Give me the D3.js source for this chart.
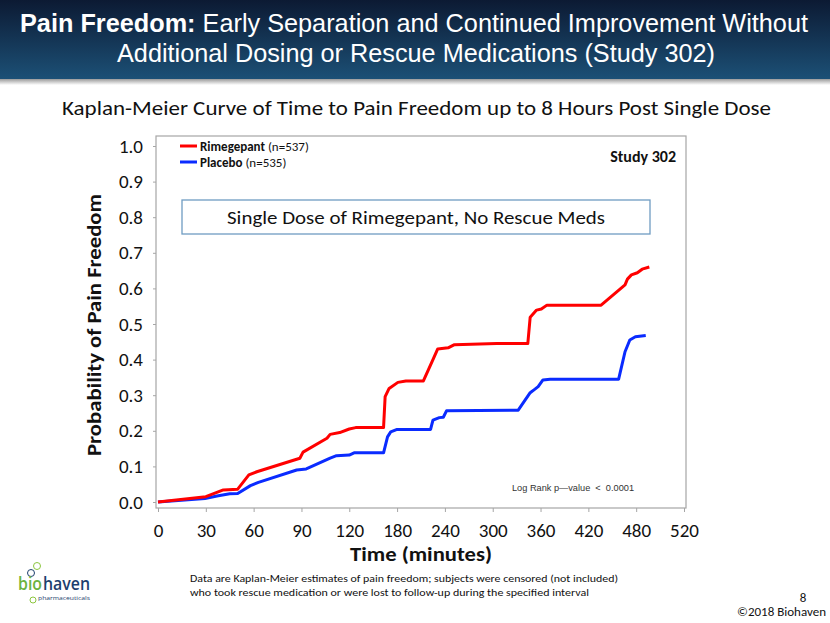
<!DOCTYPE html>
<html><head><meta charset="utf-8">
<script src="https://cdn.jsdelivr.net/npm/d3@7/dist/d3.min.js"></script>
<style>body{margin:0;background:#fff;} svg{display:block;}</style>
</head><body>
<svg id="c" width="830" height="623"></svg>
<script>
// ---- data ----
const xTicks = [0, 30, 60, 90, 120, 180, 240, 300, 360, 420, 480, 520];
const yTicks = [0, 0.1, 0.2, 0.3, 0.4, 0.5, 0.6, 0.7, 0.8, 0.9, 1.0];
const rimeTime = [0, 30, 41, 50, 57, 62, 89, 91, 106, 108, 114, 120, 128, 163, 165, 170, 181, 191, 213, 225, 231, 244, 252, 305, 344, 347, 355, 361, 368, 436, 466, 469, 474, 481, 485, 491];
const rimeProb = [0, 0.015, 0.034, 0.036, 0.076, 0.085, 0.123, 0.14, 0.179, 0.19, 0.195, 0.205, 0.209, 0.209, 0.296, 0.319, 0.336, 0.34, 0.34, 0.40, 0.43, 0.433, 0.442, 0.445, 0.445, 0.519, 0.539, 0.542, 0.553, 0.553, 0.61, 0.626, 0.638, 0.644, 0.654, 0.66];
const placTime = [0, 29.5, 37, 45, 50, 58, 63, 87, 93, 108, 112, 120, 126, 163, 168, 172, 180, 222, 225, 233, 238, 242, 332, 347, 353, 357, 363, 372, 458, 466, 472, 479, 488];
const placProb = [0, 0.010, 0.017, 0.023, 0.024, 0.046, 0.055, 0.09, 0.093, 0.123, 0.13, 0.132, 0.138, 0.138, 0.183, 0.197, 0.204, 0.204, 0.23, 0.237, 0.238, 0.256, 0.258, 0.307, 0.317, 0.324, 0.343, 0.345, 0.345, 0.422, 0.455, 0.464, 0.468];
const seriesNames = ["Rimegepant", "Placebo"];
const seriesN = ["(n=537)", "(n=535)"];
const seriesColors = ["#ff0000", "#0a2bff"];

const svg = d3.select("#c");
const defs = svg.append("defs");
const grad = defs.append("linearGradient").attr("id","hdr").attr("x1",0).attr("y1",0).attr("x2",0).attr("y2",1);
grad.append("stop").attr("offset","0%").attr("stop-color","#0c1a33");
grad.append("stop").attr("offset","100%").attr("stop-color","#1c5076");
const sh = defs.append("linearGradient").attr("id","shd").attr("x1",0).attr("y1",0).attr("x2",0).attr("y2",1);
sh.append("stop").attr("offset","0%").attr("stop-color","#8a8a8a");
sh.append("stop").attr("offset","100%").attr("stop-color","#ffffff");

// header
svg.append("rect").attr("x",0).attr("y",78).attr("width",830).attr("height",7).attr("fill","url(#shd)");
svg.append("rect").attr("x",0).attr("y",0).attr("width",830).attr("height",79).attr("fill","url(#hdr)");
const tfont = "'Liberation Sans Narrow','Arial Narrow','Liberation Sans',Arial,sans-serif";
const t1 = svg.append("text").attr("x",20).attr("y",32).attr("fill","#fff")
  .style("font-family",tfont).style("font-size","25px")
  .attr("textLength",788).attr("lengthAdjust","spacingAndGlyphs");
t1.append("tspan").attr("font-weight","bold").text("Pain Freedom:");
t1.append("tspan").text(" Early Separation and Continued Improvement Without");
svg.append("text").attr("x",117).attr("y",62).attr("fill","#fff")
  .style("font-family",tfont).style("font-size","25px")
  .attr("textLength",598).attr("lengthAdjust","spacingAndGlyphs")
  .text("Additional Dosing or Rescue Medications (Study 302)");

const cfont = "Carlito,Calibri,Lato,'Open Sans',sans-serif";
svg.append("text").attr("x",62).attr("y",115).attr("fill","#111")
  .style("font-family",cfont).style("font-size","21px")
  .attr("textLength",709).attr("lengthAdjust","spacingAndGlyphs")
  .text("Kaplan-Meier Curve of Time to Pain Freedom up to 8 Hours Post Single Dose");

// scales
const xRange = xTicks.map((d,i)=>158 + i*(684-158)/(xTicks.length-1));
const x = d3.scaleLinear().domain(xTicks).range(xRange);
const y = d3.scaleLinear().domain([0,1]).range([502,146]);

// frame
svg.append("rect").attr("x",156).attr("y",136).attr("width",530).attr("height",372)
  .attr("fill","#fff").attr("stroke","#a6a6a6").attr("stroke-width",1.2);

// axes
const xAxis = svg.append("g").attr("transform","translate(0,508)")
  .call(d3.axisBottom(x).tickValues(xTicks).tickSize(4).tickFormat(d3.format("d")));
xAxis.select(".domain").remove();
xAxis.selectAll("line").attr("stroke","#a6a6a6");
xAxis.selectAll("text").attr("fill","#111").style("font-family",cfont).style("font-size","19px").attr("dy","1.15em");

const yAxis = svg.append("g").attr("transform","translate(156,0)")
  .call(d3.axisLeft(y).tickValues(yTicks).tickSize(3).tickFormat(d3.format(".1f")));
yAxis.select(".domain").remove();
yAxis.selectAll("line").attr("stroke","#a6a6a6");
yAxis.selectAll("text").attr("fill","#111").style("font-family",cfont).style("font-size","19px").attr("x",-13);

// axis titles
svg.append("text").attr("transform","translate(101,325) rotate(-90)").attr("text-anchor","middle")
  .attr("fill","#111").style("font-family",cfont).style("font-size","21px").style("font-weight","bold")
  .attr("textLength",262).attr("lengthAdjust","spacingAndGlyphs")
  .text("Probability of Pain Freedom");
svg.append("text").attr("x",421).attr("y",561).attr("text-anchor","middle")
  .attr("fill","#111").style("font-family",cfont).style("font-size","21px").style("font-weight","bold")
  .attr("textLength",142).attr("lengthAdjust","spacingAndGlyphs")
  .text("Time (minutes)");

// lines
const line = d3.line().x(d=>x(d[0])).y(d=>y(d[1]));
const series = [d3.zip(rimeTime, rimeProb), d3.zip(placTime, placProb)];
[1,0].forEach(i=>{
  svg.append("path").datum(series[i]).attr("d",line).attr("fill","none")
    .attr("stroke",seriesColors[i]).attr("stroke-width",3).attr("stroke-linejoin","round");
});

// legend
seriesNames.forEach((n,i)=>{
  const ly = 146 + i*16;
  svg.append("line").attr("x1",180).attr("x2",197).attr("y1",ly).attr("y2",ly)
    .attr("stroke",seriesColors[i]).attr("stroke-width",3);
  const t = svg.append("text").attr("x",200).attr("y",ly+4.5).attr("fill","#111")
    .style("font-family",cfont).style("font-size","13px");
  t.append("tspan").attr("font-weight","bold").text(n);
  t.append("tspan").text(" " + seriesN[i]);
});
svg.append("text").attr("x",676).attr("y",162).attr("text-anchor","end").attr("fill","#111")
  .style("font-family",cfont).style("font-size","16px").style("font-weight","bold").text("Study 302");

// annotation box
svg.append("rect").attr("x",182).attr("y",200).attr("width",468).attr("height",34)
  .attr("fill","#fff").attr("stroke","#6f9cc2").attr("stroke-width",1.3);
svg.append("text").attr("x",416).attr("y",223.5).attr("text-anchor","middle").attr("fill","#111")
  .style("font-family",cfont).style("font-size","18px")
  .attr("textLength",378).attr("lengthAdjust","spacingAndGlyphs")
  .text("Single Dose of Rimegepant, No Rescue Meds");

svg.append("text").attr("x",512).attr("y",491).attr("fill","#333")
  .style("font-family","'Liberation Sans',Arial,sans-serif").style("font-size","9.5px")
  .style("white-space","pre")
  .attr("textLength",122).attr("lengthAdjust","spacingAndGlyphs")
  .text("Log Rank p\u2014value  <  0.0001");

// footnote
svg.append("text").attr("x",190).attr("y",582).attr("fill","#111")
  .style("font-family",cfont).style("font-size","11px")
  .attr("textLength",428).attr("lengthAdjust","spacingAndGlyphs")
  .text("Data are Kaplan-Meier estimates of pain freedom; subjects were censored (not included)");
svg.append("text").attr("x",190).attr("y",596).attr("fill","#111")
  .style("font-family",cfont).style("font-size","11px")
  .attr("textLength",399).attr("lengthAdjust","spacingAndGlyphs")
  .text("who took rescue medication or were lost to follow-up during the specified interval");
svg.append("text").attr("x",803).attr("y",602).attr("text-anchor","middle").attr("fill","#111")
  .style("font-family",cfont).style("font-size","13px").text("8");
svg.append("text").attr("x",826).attr("y",616).attr("text-anchor","end").attr("fill","#111")
  .style("font-family",cfont).style("font-size","13px").text("\u00a92018 Biohaven");

// logo
const lg = svg.append("g");
[[37,566,"#8cc63f"],[31,573,"#1d3f6e"]].forEach(c=>{
  lg.append("circle").attr("cx",c[0]).attr("cy",c[1]).attr("r",3.5).attr("fill","none").attr("stroke",c[2]).attr("stroke-width",1);
});
lg.append("circle").attr("cx",33).attr("cy",600).attr("r",3).attr("fill","none").attr("stroke","#8cc63f").attr("stroke-width",1);
lg.append("text").attr("x",18).attr("y",590).attr("fill","#6cb33f")
  .style("font-family","'Open Sans',sans-serif").style("font-size","18px").style("font-weight","600")
  .attr("textLength",24).attr("lengthAdjust","spacingAndGlyphs").text("bio");
lg.append("text").attr("x",43).attr("y",590).attr("fill","#1d3f6e")
  .style("font-family","'Open Sans',sans-serif").style("font-size","18px").style("font-weight","600")
  .attr("textLength",47).attr("lengthAdjust","spacingAndGlyphs").text("haven");
lg.append("text").attr("x",38).attr("y",600).attr("fill","#1d3f6e").style("font-family","'Open Sans',sans-serif").style("font-size","5.5px")
  .attr("textLength",52).attr("lengthAdjust","spacingAndGlyphs").text("pharmaceuticals");
</script>
</body></html>
